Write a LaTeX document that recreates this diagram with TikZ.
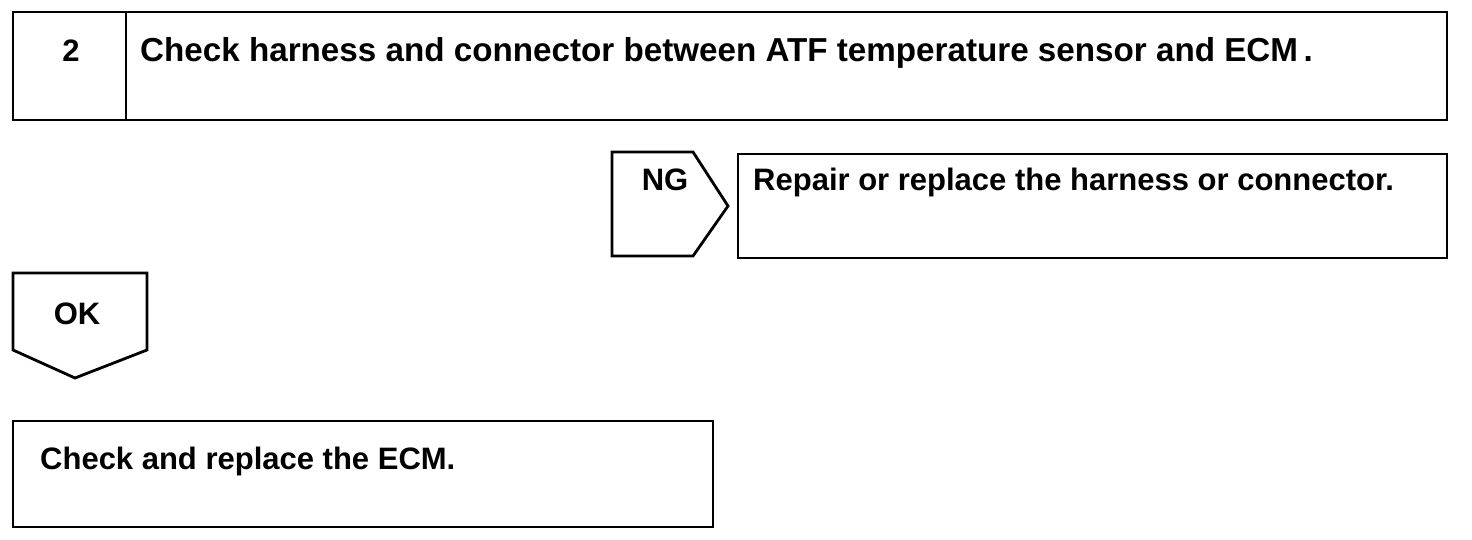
\documentclass[tikz,border=0pt]{standalone}
\usepackage{fontspec}
\setmainfont{Liberation Sans}
\begin{document}
\begin{tikzpicture}[x=1pt,y=-1pt,
  box/.style={draw=black,line width=2.8pt,line join=miter},
  lbl/.style={font=\fontsize{31}{36}\selectfont\bfseries,inner sep=0pt,anchor=base west},
  biglbl/.style={font=\fontsize{33.2}{38}\selectfont\bfseries,inner sep=0pt,anchor=base west},
  clbl/.style={font=\fontsize{31}{36}\selectfont\bfseries,inner sep=0pt,anchor=base}]
\useasboundingbox (0,0) rectangle (1472,540);
% top step box
\draw[box] (13,12) rectangle (1447,120);
\draw[box] (126,12) -- (126,120);
\node[clbl] (num) at (71,62) {2};
\node[biglbl] (title) at (140,62) {Check harness and connector between ATF temperature sensor and ECM\,.};
% NG pentagon
\draw[box] (612,152) -- (693,152) -- (728,206) -- (693,256) -- (612,256) -- cycle;
\node[clbl] (ng) at (665,191) {NG};
% NG result box
\draw[box] (738,154) rectangle (1447,258);
\node[lbl] (ngtext) at (753,191) {Repair or replace the harness or connector.};
% OK pentagon
\draw[box] (13,273) -- (147,273) -- (147,350) -- (75,378) -- (13,350) -- cycle;
\node[clbl] (ok) at (77,324) {OK};
% OK result box
\draw[box] (13,421) rectangle (713,527);
\node[lbl] (oktext) at (40,469) {Check and replace the ECM.};
\end{tikzpicture}
\end{document}
